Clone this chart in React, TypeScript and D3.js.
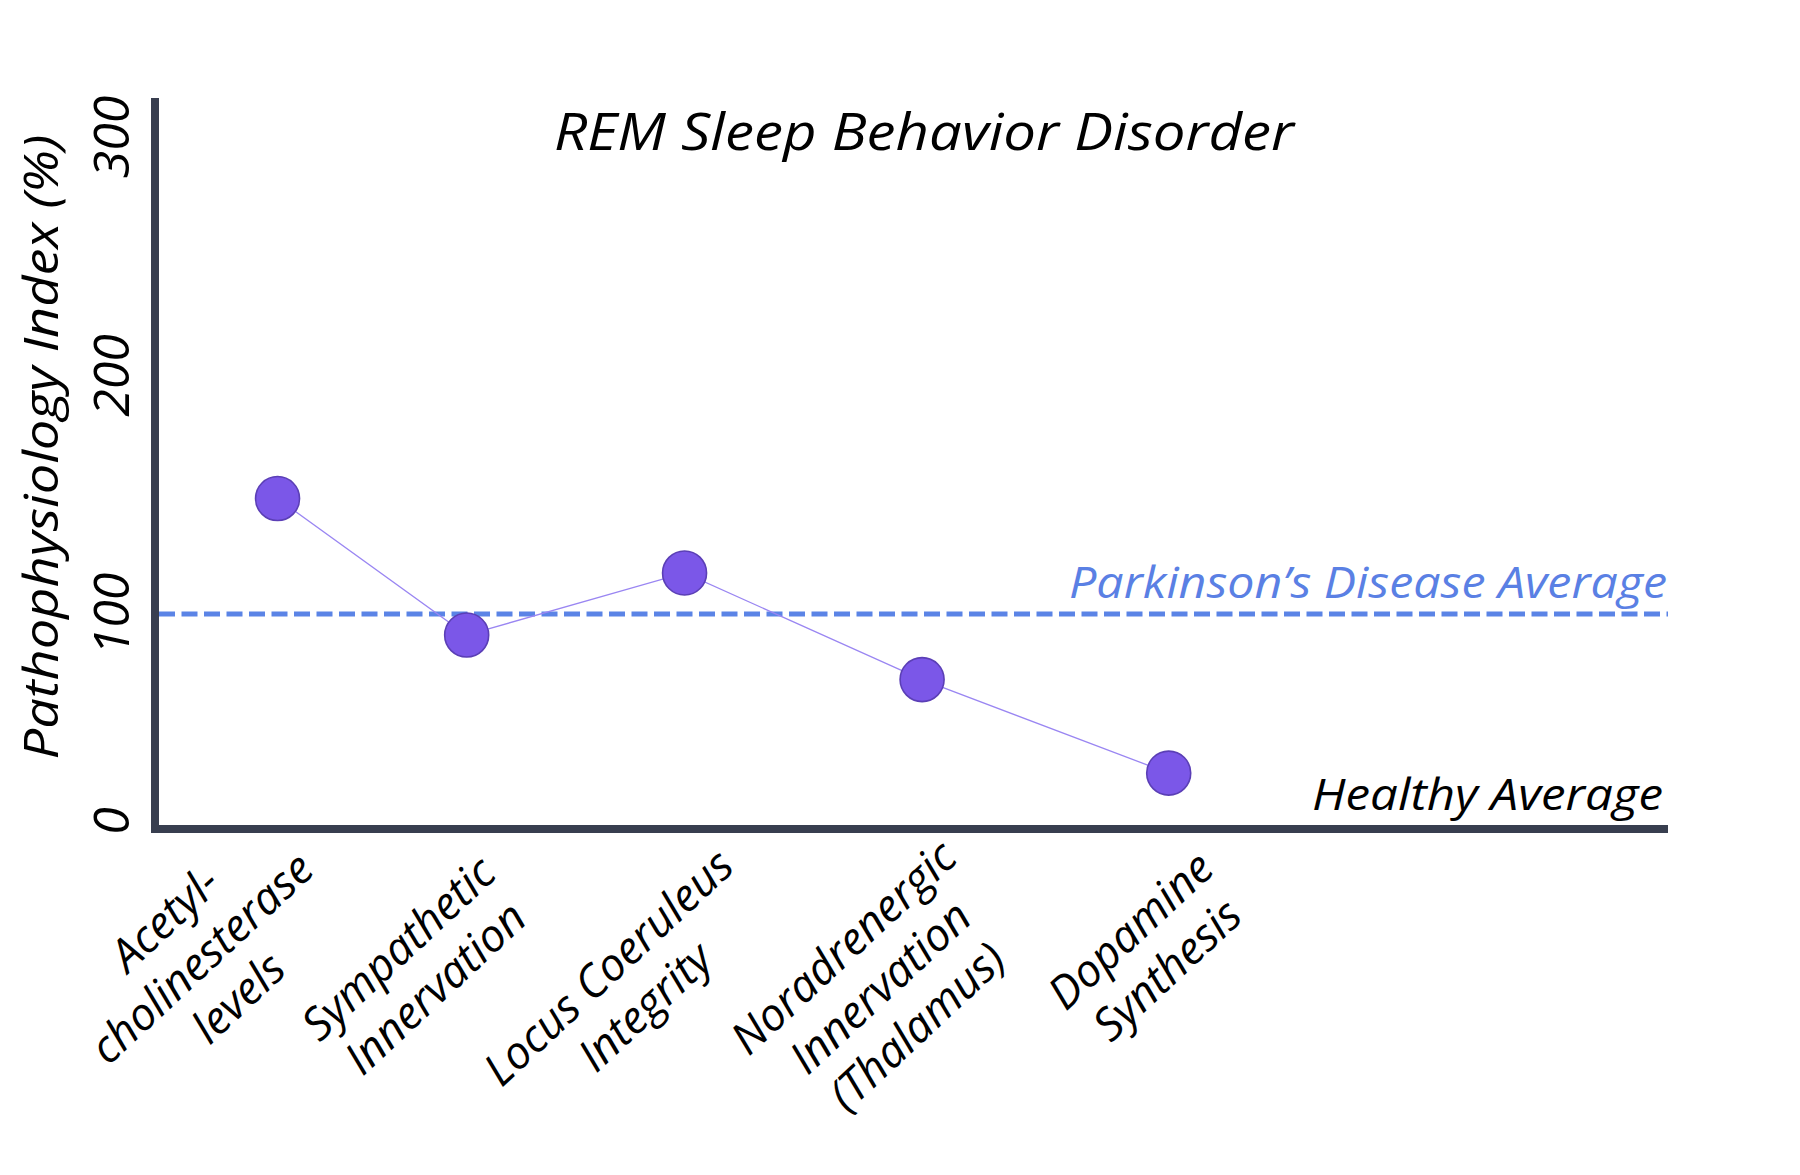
import React from "react";
import * as d3 from "d3";

// ---- data ----
const categories: string[][] = [
  ["Acetyl-", "cholinesterase", "levels"],
  ["Sympathetic", "Innervation"],
  ["Locus Coeruleus", "Integrity"],
  ["Noradrenergic", "Innervation", "(Thalamus)"],
  ["Dopamine", "Synthesis"],
];
const xPositions: number[] = [0.81, 2.06, 3.5, 5.07, 6.7];
const values: number[] = [148.4, 90.2, 117.2, 69.5, 26.0];
const yTicks: number[] = [0, 100, 200, 300];
const pdAverage = 100;
const healthyAverage = 0;
const title = "REM Sleep Behavior Disorder";
const yTitle = "Pathophysiology Index (%)";
const pdLabel = "Parkinson\u2019s Disease Average";
const healthyLabel = "Healthy Average";

// ---- layout ----
const W = 1800;
const H = 1175;
const axisX = 155;
const axisRight = 1668;
const axisTop = 98;
const FONT = "'Open Sans', 'DejaVu Sans', sans-serif";
const labelOffsets = [
  { dx: -76, y: 958 },
  { dx: -50, y: 968 },
  { dx: -58, y: 987 },
  { dx: -42, y: 987 },
  { dx: -20, y: 950 },
];

export default function App() {
  const x = d3.scaleLinear().domain([0, 10]).range([axisX, axisRight]);
  const y = d3.scaleLinear().domain([0, 100, 300]).range([829, 614, 137]);
  const pts = values.map((v, i) => [x(xPositions[i]), y(v)] as [number, number]);
  const line = d3.line()(pts) || "";
  const y0 = y(0);

  return (
    <svg
      width={W}
      height={H}
      style={{ position: "absolute", left: 0, top: 0, background: "#fff" }}
      fontFamily={FONT}
    >
      <rect x={0} y={0} width={W} height={H} fill="#fff" />
      {/* title */}
      <text
        x={924}
        y={150}
        textAnchor="middle"
        fontSize={52}
        fontStyle="italic"
        textLength={740}
        lengthAdjust="spacingAndGlyphs"
        fill="#000"
      >
        {title}
      </text>

      {/* y title */}
      <text
        transform={`translate(58,447) rotate(-90)`}
        textAnchor="middle"
        fontSize={48}
        fontStyle="italic"
        textLength={625}
        lengthAdjust="spacingAndGlyphs"
        fill="#000"
      >
        {yTitle}
      </text>

      {/* y tick labels */}
      {yTicks.map((t) => {
        const cy = Math.min(y(t), y0 - 8);
        return (
          <text
            key={t}
            transform={`translate(129,${cy}) rotate(-90)`}
            textAnchor="middle"
            fontSize={50}
            fontStyle="italic"
            fill="#000"
          >
            {t}
          </text>
        );
      })}

      {/* PD average dashed line */}
      <line
        x1={axisX + 4}
        x2={axisRight}
        y1={y(pdAverage)}
        y2={y(pdAverage)}
        stroke="#5b84e6"
        strokeWidth={5}
        strokeDasharray="16 6.5"
      />
      <text
        x={axisRight - 1}
        y={y(pdAverage) - 16}
        textAnchor="end"
        fontSize={44}
        fontStyle="italic"
        textLength={598}
        lengthAdjust="spacingAndGlyphs"
        fill="#5a80e4"
      >
        {pdLabel}
      </text>
      <text
        x={axisRight - 5}
        y={y(healthyAverage) - 19}
        textAnchor="end"
        fontSize={44}
        fontStyle="italic"
        textLength={351}
        lengthAdjust="spacingAndGlyphs"
        fill="#000"
      >
        {healthyLabel}
      </text>

      {/* connecting line */}
      <path d={line} fill="none" stroke="#9a86f2" strokeWidth={1.3} />

      {/* points */}
      {pts.map(([px, py], i) => (
        <circle key={i} cx={px} cy={py} r={22} fill="#7b57e8" stroke="#5b3fb6" strokeWidth={1.6} />
      ))}

      {/* axes */}
      <line x1={axisX} x2={axisX} y1={axisTop} y2={y0 + 4} stroke="#383e4f" strokeWidth={8} />
      <line x1={axisX - 4} x2={axisRight} y1={y0} y2={y0} stroke="#383e4f" strokeWidth={8} />

      {/* category labels */}
      {categories.map((lines, i) => {
        const cx = x(xPositions[i]) + labelOffsets[i].dx;
        const cy = labelOffsets[i].y;
        const n = lines.length;
        const lh = 54;
        return (
          <g key={i} transform={`translate(${cx},${cy}) rotate(-43)`}>
            {lines.map((ln, j) => (
              <text
                key={j}
                x={0}
                y={(j - (n - 1) / 2) * lh}
                dy="0.35em"
                textAnchor="middle"
                fontSize={45}
                fontStyle="italic"
                fill="#000"
              >
                {ln}
              </text>
            ))}
          </g>
        );
      })}
    </svg>
  );
}
